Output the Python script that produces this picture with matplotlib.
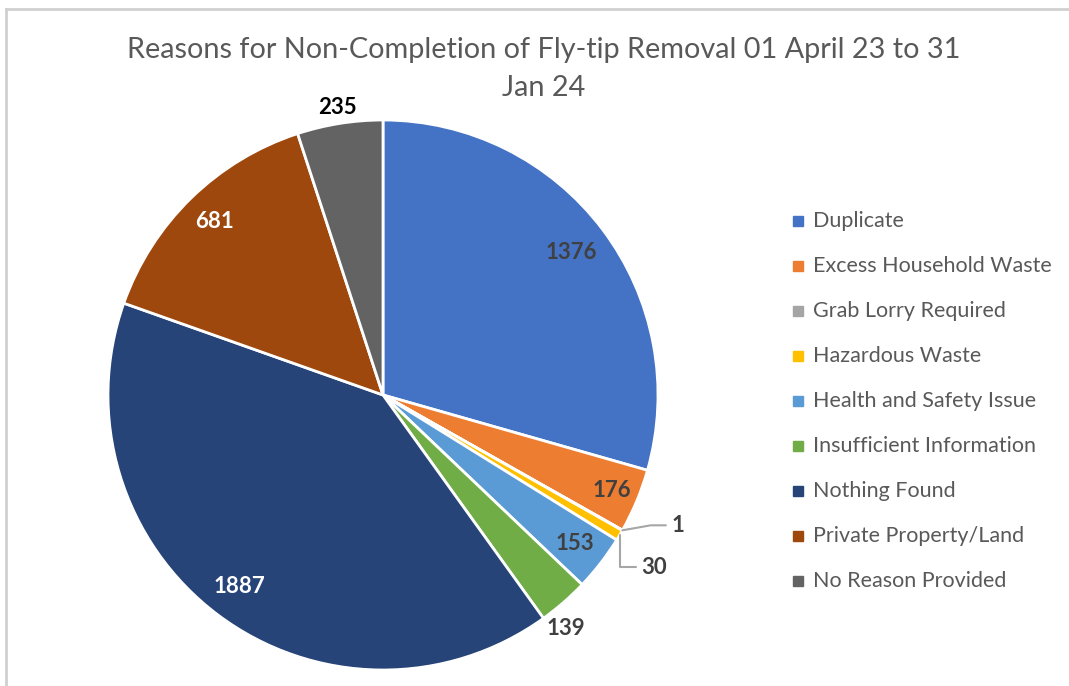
import numpy as np
import matplotlib.pyplot as plt
from matplotlib.lines import Line2D

categories = ['Duplicate', 'Excess Household Waste', 'Grab Lorry Required',
              'Hazardous Waste', 'Health and Safety Issue', 'Insufficient Information',
              'Nothing Found', 'Private Property/Land', 'No Reason Provided']
values = [1376, 176, 1, 30, 153, 139, 1887, 681, 235]
colors = ['#4472C4', '#ED7D31', '#A5A5A5', '#FFC000', '#5B9BD5',
          '#70AD47', '#264478', '#9E480E', '#636363']
title_lines = ['Reasons for Non-Completion of Fly-tip Removal 01 April 23 to 31', 'Jan 24']

plt.rcParams['font.family'] = ['Lato', 'DejaVu Sans']

W, H = 1069, 686
fig = plt.figure(figsize=(W / 100, H / 100), dpi=100)
ax = fig.add_axes([0, 0, 1, 1])

# chart frame (top and left edges visible)
ax.add_line(Line2D([6, W], [H - 9, H - 9], color='#D0D0D0', lw=2))
ax.add_line(Line2D([6, 6], [0, H - 9], color='#D0D0D0', lw=2))

cx, cy, r = 383, H - 395, 275
wedges, _ = ax.pie(values, colors=colors, startangle=90, counterclock=False,
                   center=(cx, cy), radius=r, frame=True,
                   wedgeprops=dict(edgecolor='white', linewidth=2))
ax.set_xlim(0, W)
ax.set_ylim(0, H)
ax.set_aspect('equal')
ax.axis('off')

# label placement: (radial factor, text colour)
label_style = {
    0: (0.86, '#404040'),
    1: (0.90, '#404040'),
    4: (0.88, '#404040'),
    5: (1.08, '#404040'),
    6: (0.87, 'white'),
    7: (0.88, 'white'),
    8: (1.06, 'black'),
}
for i, w in enumerate(wedges):
    mid = np.deg2rad((w.theta1 + w.theta2) / 2)
    if i in label_style:
        f, c = label_style[i]
        if i == 5:
            mid -= np.deg2rad(3)
        ax.text(cx + f * r * np.cos(mid), cy + f * r * np.sin(mid), str(values[i]),
                ha='center', va='center', fontsize=16, fontweight='bold', color=c)

# small slices with leader lines
for i, conn in [(2, 'angle,angleA=0,angleB=10'),
                (3, 'angle,angleA=0,angleB=90')]:
    w = wedges[i]
    mid = np.deg2rad((w.theta1 + w.theta2) / 2)
    px, py = cx + r * np.cos(mid), cy + r * np.sin(mid)
    if i == 2:
        tx, ty = px + 49, py + 5
    else:
        tx, ty = px + 22, py - 32
    ax.annotate(str(values[i]), xy=(px, py), xytext=(tx, ty),
                ha='left', va='center', fontsize=16, fontweight='bold', color='#404040',
                arrowprops=dict(arrowstyle='-', color='#A6A6A6', lw=1.5,
                                connectionstyle=conn, shrinkA=2, shrinkB=0))

# two-line title
for k, line in enumerate(title_lines):
    ax.text(544, H - 50 - 38 * k, line, ha='center', va='center', fontsize=20.8,
            color='#595959')

# legend
for i, (name, col) in enumerate(zip(categories, colors)):
    y = H - (221 + 45 * i)
    ax.add_patch(plt.Rectangle((793, y - 5), 10, 10, color=col))
    ax.text(813, y, name, ha='left', va='center', fontsize=15.5, color='#595959')

fig.savefig('out.png', dpi=100)
